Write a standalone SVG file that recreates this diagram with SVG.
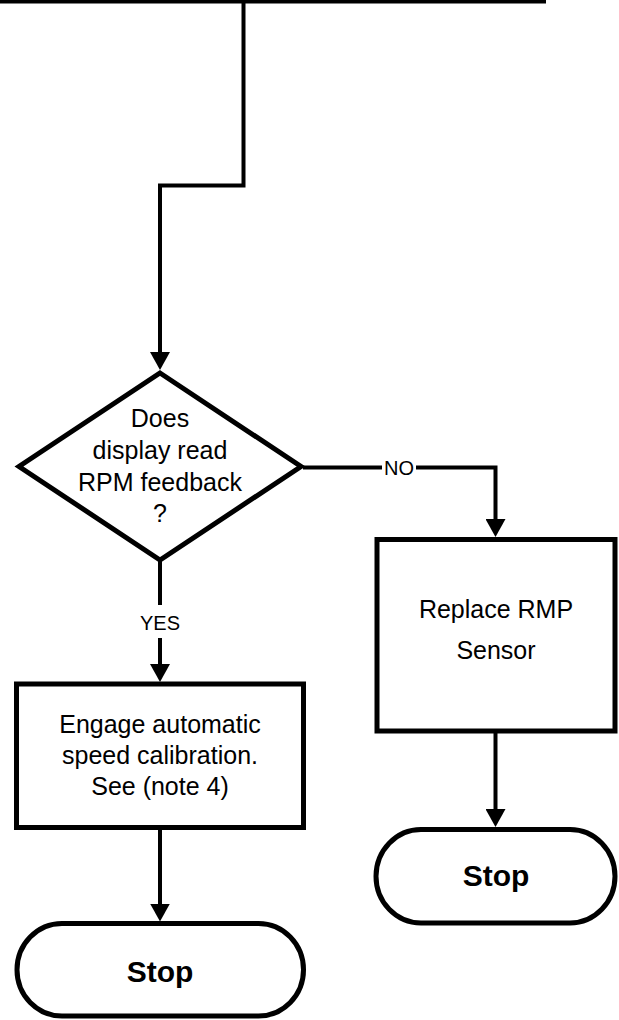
<svg xmlns="http://www.w3.org/2000/svg" width="619" height="1020" viewBox="0 0 619 1020">
<style>
.shape{fill:#fff;stroke:#000;stroke-width:5;stroke-linejoin:miter}
.conn{fill:none;stroke:#000;stroke-width:4}
.t{font-family:"Liberation Sans",Arial,sans-serif;font-size:25px;fill:#000;text-anchor:middle}
.lbl{font-family:"Liberation Sans",Arial,sans-serif;font-size:20px;fill:#000;text-anchor:middle}
.stop{font-family:"Liberation Sans",Arial,sans-serif;font-size:30px;font-weight:bold;fill:#000;text-anchor:middle}
</style>
<defs>
<marker id="arr" viewBox="0 0 18 20" refX="12" refY="10" markerWidth="18" markerHeight="20" markerUnits="userSpaceOnUse" orient="auto">
<path d="M0,0 L18,10 L0,20 Z" fill="#000"/>
</marker>
</defs>
<g id="connectors">
<path class="conn" d="M0,1.5 H546"/>
<path class="conn" d="M243.5,0 V185.5 H160 V364" marker-end="url(#arr)"/>
<path class="conn" d="M303,467.5 H382"/>
<path class="conn" d="M416,467.5 H495.5 V531" marker-end="url(#arr)"/>
<path class="conn" d="M160,560 V605"/>
<path class="conn" d="M160,638 V676" marker-end="url(#arr)"/>
<path class="conn" d="M160,830 V915.5" marker-end="url(#arr)"/>
<path class="conn" d="M495.5,733 V821" marker-end="url(#arr)"/>
<text class="lbl" x="399" y="474.5" font-size="21">NO</text>
<text class="lbl" x="160" y="629.5">YES</text>
</g>
<g id="decision">
<polygon class="shape" points="160,373 301,466.5 160,560 19,466.5"/>
<text class="t" x="160" y="427">Does</text>
<text class="t" x="160" y="459">display read</text>
<text class="t" x="160" y="491">RPM feedback</text>
<text class="t" x="160" y="522">?</text>
</g>
<g id="replace">
<rect class="shape" x="377" y="539.5" width="238" height="191.5"/>
<text class="t" x="496" y="618">Replace RMP</text>
<text class="t" x="496" y="659">Sensor</text>
</g>
<g id="calibrate">
<rect class="shape" x="16.5" y="684" width="287" height="143.5"/>
<text class="t" x="160" y="733">Engage automatic</text>
<text class="t" x="160" y="764">speed calibration.</text>
<text class="t" x="160" y="795">See (note 4)</text>
</g>
<g id="stop-right">
<path class="shape" d="M421,829.5 H570 A45,46.75 0 0 1 570,923 H421 A45,46.75 0 0 1 421,829.5 Z"/>
<text class="stop" x="496" y="886">Stop</text>
</g>
<g id="stop-left">
<path class="shape" d="M62,923.5 H258.5 A45,46.25 0 0 1 258.5,1016 H62 A45,46.25 0 0 1 62,923.5 Z"/>
<text class="stop" x="160" y="982">Stop</text>
</g>
</svg>
